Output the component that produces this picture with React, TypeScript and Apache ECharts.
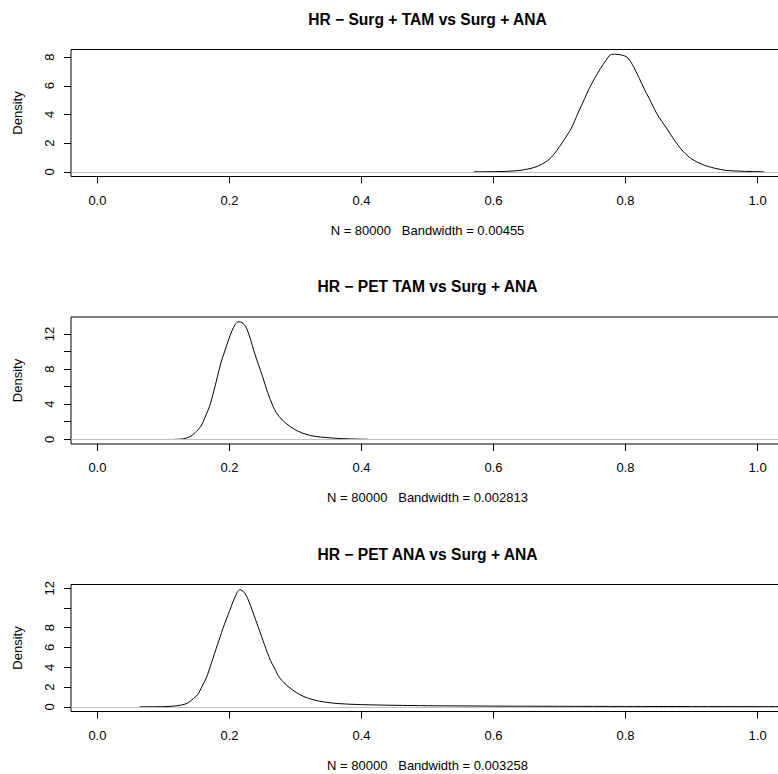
import React, { useEffect, useRef } from "react";
import * as echarts from "echarts";

const titles = [
  "HR \u2212 Surg + TAM vs Surg + ANA",
  "HR \u2212 PET TAM vs Surg + ANA",
  "HR \u2212 PET ANA vs Surg + ANA",
];
const subLabels = [
  "N = 80000   Bandwidth = 0.00455",
  "N = 80000   Bandwidth = 0.002813",
  "N = 80000   Bandwidth = 0.003258",
];

const xTicks = [0, 0.2, 0.4, 0.6, 0.8, 1.0];

// Panel 1: Surg + TAM
const x1 = [0.57, 0.6, 0.62, 0.64, 0.66, 0.672, 0.685, 0.695, 0.705, 0.718, 0.728, 0.738, 0.745, 0.753, 0.762, 0.77, 0.777, 0.785, 0.795, 0.802, 0.81, 0.821, 0.828, 0.836, 0.848, 0.862, 0.874, 0.887, 0.9, 0.917, 0.935, 0.952, 0.97, 0.99, 1.01];
const y1 = [0, 0.01, 0.03, 0.1, 0.28, 0.5, 0.9, 1.43, 2.1, 3.05, 4.1, 5.1, 5.8, 6.5, 7.2, 7.75, 8.15, 8.2, 8.13, 8.0, 7.5, 6.5, 5.8, 5.1, 4.0, 3.05, 2.2, 1.43, 0.9, 0.5, 0.25, 0.1, 0.05, 0.02, 0];

// Panel 2: PET TAM
const x2 = [0.117, 0.13, 0.142, 0.15, 0.157, 0.163, 0.17, 0.176, 0.182, 0.187, 0.192, 0.198, 0.204, 0.209, 0.214, 0.219, 0.225, 0.231, 0.238, 0.244, 0.25, 0.258, 0.266, 0.271, 0.28, 0.291, 0.303, 0.316, 0.33, 0.346, 0.37, 0.39, 0.41];
const y2 = [0, 0.05, 0.38, 0.9, 1.51, 2.5, 3.78, 5.4, 7.19, 8.7, 9.84, 11.2, 12.4, 13.1, 13.4, 13.3, 12.8, 11.6, 9.84, 8.5, 7.19, 5.3, 3.78, 3.03, 2.2, 1.51, 0.95, 0.57, 0.33, 0.2, 0.08, 0.03, 0];

// Panel 3: PET ANA
const x3 = [0.064, 0.1, 0.12, 0.134, 0.143, 0.152, 0.158, 0.165, 0.173, 0.182, 0.19, 0.2, 0.207, 0.212, 0.216, 0.222, 0.228, 0.235, 0.244, 0.253, 0.262, 0.268, 0.276, 0.29, 0.306, 0.32, 0.336, 0.356, 0.377, 0.4, 0.45, 0.5, 0.6, 0.7, 0.8, 0.9, 1.0, 1.06];
const y3 = [0, 0.02, 0.1, 0.3, 0.7, 1.25, 2.0, 2.93, 4.5, 6.3, 7.9, 9.67, 10.9, 11.6, 11.86, 11.6, 10.9, 9.67, 8.0, 6.3, 4.7, 3.94, 2.93, 2.0, 1.25, 0.85, 0.57, 0.38, 0.28, 0.22, 0.15, 0.11, 0.07, 0.05, 0.035, 0.025, 0.02, 0.015];

const yTickValues = [
  [0, 2, 4, 6, 8],
  [0, 2, 4, 6, 8, 10, 12],
  [0, 2, 4, 6, 8, 10, 12],
];
const yLabelValues = [
  [0, 2, 4, 6, 8],
  [0, 4, 8, 12],
  [0, 2, 4, 6, 8, 12],
];
const yPeaks = [8.2, 13.4, 11.9];

const xs = [x1, x2, x3];
const ys = [y1, y2, y3];

const gridTops = [49.5, 317, 584.5];
const gridHeight = 127;
const FONT = "Liberation Sans, Arial, Helvetica, sans-serif";

export default function App() {
  const ref = useRef<HTMLDivElement>(null);
  useEffect(() => {
    if (!ref.current) return;
    const chart = echarts.init(ref.current, undefined, { renderer: "svg" });
    const grids = gridTops.map((t) => ({
      left: 71,
      right: -6,
      top: t,
      height: gridHeight,
      show: true,
      borderColor: "#000",
      borderWidth: 1,
      backgroundColor: "transparent",
      outerBoundsMode: "none",
      containLabel: false,
    }));
    const xAxes = gridTops.map((_, i) => ({
      type: "value",
      gridIndex: i,
      min: -0.04,
      max: 1.04,
      name: subLabels[i],
      nameLocation: "middle",
      nameGap: 47,
      nameTextStyle: { color: "#000", fontSize: 13, fontFamily: FONT },
      axisLine: { show: false, onZero: false },
      splitLine: { show: false },
      axisTick: {
        show: true,
        length: 7,
        customValues: xTicks,
        lineStyle: { color: "#000", width: 1 },
      },
      axisLabel: {
        customValues: xTicks,
        margin: 17,
        color: "#000",
        fontSize: 13,
        fontFamily: FONT,
        formatter: (v: number) => v.toFixed(1),
      },
    }));
    const yAxes = gridTops.map((_, i) => ({
      type: "value",
      gridIndex: i,
      min: -0.04 * yPeaks[i],
      max: 1.04 * yPeaks[i],
      name: "Density",
      nameLocation: "middle",
      nameRotate: 90,
      nameGap: 47,
      nameTextStyle: { color: "#000", fontSize: 13, fontFamily: FONT },
      axisLine: { show: false, onZero: false },
      splitLine: { show: false },
      axisTick: {
        show: true,
        length: 7,
        customValues: yTickValues[i],
        lineStyle: { color: "#000", width: 1 },
      },
      axisLabel: {
        customValues: yLabelValues[i],
        rotate: 90,
        margin: 15,
        color: "#000",
        fontSize: 13,
        fontFamily: FONT,
        formatter: (v: number) => String(Math.round(v)),
      },
    }));
    const series = gridTops.map((_, i) => ({
      type: "line",
      xAxisIndex: i,
      yAxisIndex: i,
      data: xs[i].map((x, j) => [x, ys[i][j]]),
      showSymbol: false,
      smooth: 0.3,
      clip: true,
      lineStyle: { color: "#000", width: 1 },
      markLine: {
        silent: true,
        symbol: "none",
        label: { show: false },
        lineStyle: { color: "#BEBEBE", type: "solid", width: 1 },
        data: [{ yAxis: 0 }],
      },
    }));
    const graphic = gridTops.map((t, i) => ({
      type: "text",
      x: 427.5,
      y: t - 30.5,
      style: {
        text: titles[i],
        fill: "#000",
        font: `bold 15.6px ${FONT}`,
        textAlign: "center",
        textVerticalAlign: "middle",
      },
    }));
    chart.setOption({
      animation: false,
      backgroundColor: "#fff",
      grid: grids,
      xAxis: xAxes,
      yAxis: yAxes,
      series,
      graphic,
    });
    return () => chart.dispose();
  }, []);
  return (
    <div
      ref={ref}
      style={{ position: "absolute", left: 0, top: 0, width: 778, height: 774 }}
    />
  );
}
